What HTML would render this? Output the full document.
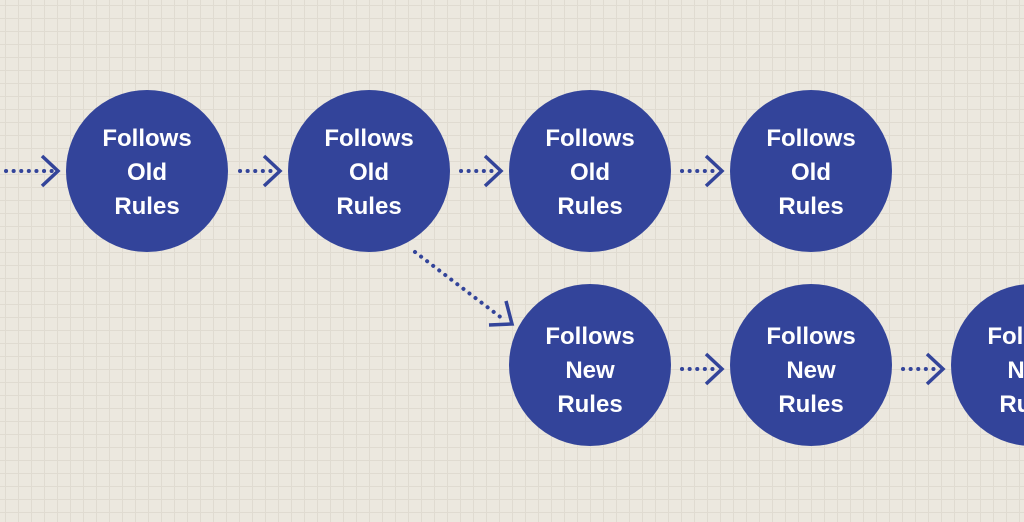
<!DOCTYPE html>
<html><head><style>
html,body{margin:0;padding:0;}
body{width:1024px;height:522px;overflow:hidden;background-color:#ece8df;
background-image:linear-gradient(#e0dbd1 1px,transparent 1px),linear-gradient(90deg,#e0dbd1 1px,transparent 1px);
background-size:13px 13px;background-position:5px 5px;}
svg{position:absolute;left:0;top:0;}
text{font-family:"Liberation Sans",sans-serif;font-size:24px;fill:#fff;text-anchor:middle;font-weight:bold;}
</style></head><body>
<svg width="1024" height="522" viewBox="0 0 1024 522">
<g fill="#33449a">
<circle cx="147" cy="171" r="81"/>
<circle cx="369" cy="171" r="81"/>
<circle cx="590" cy="171" r="81"/>
<circle cx="811" cy="171" r="81"/>
<circle cx="590" cy="365" r="81"/>
<circle cx="811" cy="365" r="81"/>
<circle cx="1032" cy="365" r="81"/>
</g>
<g stroke="#33449a" stroke-width="4" fill="none" stroke-linecap="round">
<g stroke-dasharray="0.1 7.5">
<line x1="6" y1="171" x2="54" y2="171"/>
<line x1="240" y1="171" x2="276" y2="171"/>
<line x1="461" y1="171" x2="497" y2="171"/>
<line x1="682" y1="171" x2="718" y2="171"/>
<line x1="682" y1="369" x2="718" y2="369"/>
<line x1="903" y1="369" x2="939" y2="369"/>
<line x1="415" y1="252" x2="503" y2="319"/>
</g>
<g stroke-width="3.5" stroke-linecap="butt">
<polyline points="42,156 58,171 42,186"/>
<polyline points="264,156 280,171 264,186"/>
<polyline points="485,156 501,171 485,186"/>
<polyline points="706,156 722,171 706,186"/>
<polyline points="706,354 722,369 706,384"/>
<polyline points="927,354 943,369 927,384"/>
<polyline points="506,301 512,324 489,325"/>
</g>
</g>
<g>
<text x="147" y="146">Follows</text><text x="147" y="180">Old</text><text x="147" y="214">Rules</text>
<text x="369" y="146">Follows</text><text x="369" y="180">Old</text><text x="369" y="214">Rules</text>
<text x="590" y="146">Follows</text><text x="590" y="180">Old</text><text x="590" y="214">Rules</text>
<text x="811" y="146">Follows</text><text x="811" y="180">Old</text><text x="811" y="214">Rules</text>
<text x="590" y="344">Follows</text><text x="590" y="378">New</text><text x="590" y="412">Rules</text>
<text x="811" y="344">Follows</text><text x="811" y="378">New</text><text x="811" y="412">Rules</text>
<text x="1032" y="344">Follows</text><text x="1032" y="378">New</text><text x="1032" y="412">Rules</text>
</g>
</svg>
</body></html>
